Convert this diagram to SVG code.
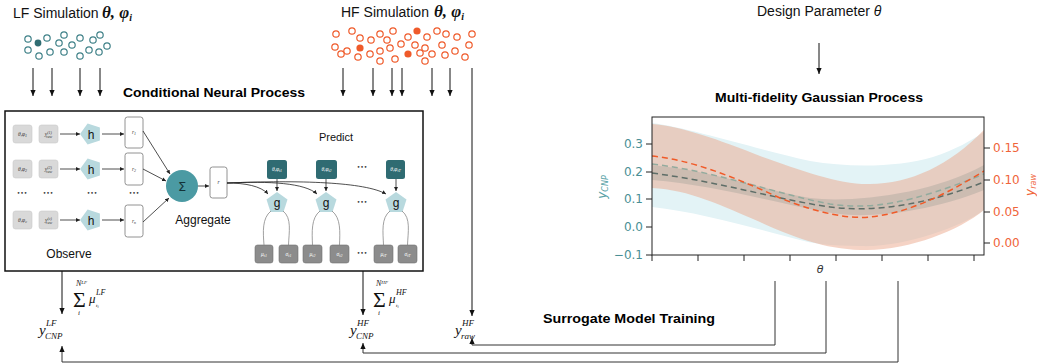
<svg xmlns="http://www.w3.org/2000/svg" width="1037" height="364" viewBox="0 0 1037 364">
<defs>
<marker id="ah" markerWidth="6" markerHeight="6" refX="6" refY="3" orient="auto" markerUnits="userSpaceOnUse"><path d="M0,0.4 L6,3 L0,5.6 z" fill="#111"/></marker>
<marker id="as" markerWidth="4" markerHeight="4" refX="4" refY="2" orient="auto" markerUnits="userSpaceOnUse"><path d="M0,0 L4,2 L0,4 z" fill="#222"/></marker>
<clipPath id="plot"><rect x="652" y="117" width="332" height="138"/></clipPath>
</defs>
<style>
.sans{font-family:"Liberation Sans",Arial,sans-serif;fill:#111}
.title{font-family:"Liberation Sans",Arial,sans-serif;font-weight:bold;fill:#000}
.math{font-family:"Liberation Serif","Times New Roman",serif;font-style:italic;fill:#111}
.lf{fill:#fff;stroke:#3f8188;stroke-width:1.2}
.hf{fill:#fff;stroke:#ef5a2a;stroke-width:1.2}
.arrow{stroke:#111;stroke-width:1;fill:none;marker-end:url(#ah)}
.sarrow{stroke:#222;stroke-width:0.8;fill:none;marker-end:url(#as)}
.gbox{fill:#d9d9d9;stroke:#cacaca;stroke-width:0.6}
.rbox{fill:#fff;stroke:#777;stroke-width:0.8}
.pent{fill:#b8d9de}
.tbox{fill:#2f6b72}
.dbox{fill:#8c8c8c;stroke:#707070;stroke-width:0.6}
.tiny{font-family:"Liberation Serif",serif;font-style:italic;font-size:5.5px;fill:#333}
.tinyw{font-family:"Liberation Serif",serif;font-style:italic;font-size:5.5px;fill:#fff}
.dots{font-family:"DejaVu Sans",sans-serif;font-size:6px;fill:#333}
.gline{stroke:#888;stroke-width:0.8;fill:none}
.tick{stroke:#222;stroke-width:1}
.lt{font-family:"DejaVu Sans",sans-serif;font-size:12px;fill:#4a8f95}
.rt{font-family:"DejaVu Sans",sans-serif;font-size:12px;fill:#f0643a}
.conn{stroke:#333;stroke-width:1;fill:none;marker-end:url(#ah)}
</style>

<!-- Top labels -->
<g id="lf-sim">
<text class="sans" x="13" y="18" font-size="14">LF Simulation</text>
<text class="math" x="102" y="18" font-size="17" font-weight="bold">θ, φ<tspan font-size="10" dy="3">i</tspan></text>
<circle class="lf" cx="28" cy="39" r="3.2"/><circle cx="38" cy="43" r="3.4" fill="#2f6d72"/><circle class="lf" cx="47" cy="38" r="3.2"/>
<circle class="lf" cx="59" cy="43" r="3.2"/><circle class="lf" cx="64" cy="35" r="3.2"/><circle class="lf" cx="72" cy="45" r="3.2"/>
<circle class="lf" cx="80" cy="38" r="3.2"/><circle class="lf" cx="93" cy="40" r="3.2"/><circle class="lf" cx="100" cy="35" r="3.2"/>
<circle class="lf" cx="107" cy="46" r="3.2"/><circle class="lf" cx="28" cy="50" r="3.2"/><circle class="lf" cx="39" cy="56" r="3.2"/>
<circle class="lf" cx="50" cy="52" r="3.2"/><circle class="lf" cx="64" cy="52" r="3.2"/><circle class="lf" cx="80" cy="56" r="3.2"/>
<circle class="lf" cx="89" cy="50" r="3.2"/><circle class="lf" cx="99" cy="52" r="3.2"/>
</g>

<g id="hf-sim">
<text class="sans" x="341" y="17" font-size="14">HF Simulation</text>
<text class="math" x="434" y="17" font-size="17" font-weight="bold">θ, φ<tspan font-size="10" dy="3">i</tspan></text>
<circle class="hf" cx="336" cy="34" r="3.2"/><circle class="hf" cx="352" cy="31" r="3.2"/><circle class="hf" cx="360" cy="38" r="3.2"/>
<circle class="hf" cx="335" cy="47" r="3.2"/><circle class="hf" cx="347" cy="51" r="3.2"/><circle cx="360" cy="48" r="3.6" fill="#ef5a2a"/>
<circle class="hf" cx="341" cy="54" r="3.2"/><circle class="hf" cx="358" cy="57" r="3.2"/><circle class="hf" cx="371" cy="40" r="3.2"/>
<circle class="hf" cx="380" cy="34" r="3.2"/><circle class="hf" cx="387" cy="40" r="3.2"/><circle class="hf" cx="393" cy="31" r="3.2"/>
<circle class="hf" cx="370" cy="54" r="3.2"/><circle class="hf" cx="380" cy="51" r="3.2"/><circle class="hf" cx="390" cy="48" r="3.2"/>
<circle class="hf" cx="380" cy="61" r="3.2"/><circle class="hf" cx="395" cy="59" r="3.2"/><circle class="hf" cx="401" cy="44" r="3.2"/>
<circle class="hf" cx="408" cy="37" r="3.2"/><circle cx="417" cy="31" r="3.6" fill="#ef5a2a"/><circle class="hf" cx="415" cy="45" r="3.2"/>
<circle cx="408" cy="54" r="3.6" fill="#ef5a2a"/><circle class="hf" cx="420" cy="53" r="3.2"/><circle class="hf" cx="425" cy="48" r="3.2"/>
<circle class="hf" cx="427" cy="37" r="3.2"/><circle class="hf" cx="425" cy="61" r="3.2"/><circle class="hf" cx="432" cy="54" r="3.2"/>
<circle class="hf" cx="437" cy="31" r="3.2"/><circle class="hf" cx="446" cy="34" r="3.2"/><circle class="hf" cx="442" cy="45" r="3.2"/>
<circle class="hf" cx="445" cy="55" r="3.2"/><circle class="hf" cx="457" cy="37" r="3.2"/><circle class="hf" cx="455" cy="51" r="3.2"/>
<circle class="hf" cx="465" cy="57" r="3.2"/><circle class="hf" cx="472" cy="34" r="3.2"/><circle class="hf" cx="469" cy="45" r="3.2"/>
</g>

<g id="design-param">
<text class="sans" x="757" y="16" font-size="14">Design Parameter <tspan font-style="italic">θ</tspan></text>
</g>

<!-- Titles -->
<text class="title" x="123" y="97" font-size="13" textLength="182" lengthAdjust="spacingAndGlyphs">Conditional Neural Process</text>
<text class="title" x="715" y="102" font-size="13" textLength="208" lengthAdjust="spacingAndGlyphs">Multi-fidelity Gaussian Process</text>
<text class="title" x="543" y="323" font-size="13" textLength="172" lengthAdjust="spacingAndGlyphs">Surrogate Model Training</text>

<!-- CNP box -->
<g id="cnp">
<rect x="5" y="111" width="418" height="160" fill="#fff" stroke="#111" stroke-width="1.5"/>

<g id="observe-row1">
<rect class="gbox" x="13" y="125" width="19" height="18" rx="2.5"/>
<text class="tiny" x="22.5" y="136" text-anchor="middle">θ,φ<tspan font-size="4" dy="1">1</tspan></text>
<rect class="gbox" x="39" y="125" width="19" height="18" rx="2.5"/>
<text class="tiny" x="48.5" y="136" text-anchor="middle">y<tspan font-size="4" dy="-2">(1)</tspan><tspan font-size="4" dx="-6" dy="4">raw</tspan></text>
<polygon class="pent" points="80,134 87.6,123.5 99.9,127.5 99.9,140.5 87.6,144.5"/>
<text class="sans" x="91" y="138.5" font-size="12" text-anchor="middle">h</text>
<rect class="rbox" x="125" y="117" width="18" height="31" rx="2.5"/>
<text class="tiny" x="134" y="134" text-anchor="middle">r<tspan font-size="4" dy="1">1</tspan></text>
</g>
<g id="observe-row2">
<rect class="gbox" x="13" y="160" width="19" height="18" rx="2.5"/>
<text class="tiny" x="22.5" y="171" text-anchor="middle">θ,φ<tspan font-size="4" dy="1">2</tspan></text>
<rect class="gbox" x="39" y="160" width="19" height="18" rx="2.5"/>
<text class="tiny" x="48.5" y="171" text-anchor="middle">y<tspan font-size="4" dy="-2">(2)</tspan><tspan font-size="4" dx="-6" dy="4">raw</tspan></text>
<polygon class="pent" points="80,169 87.6,158.5 99.9,162.5 99.9,175.5 87.6,179.5"/>
<text class="sans" x="91" y="173.5" font-size="12" text-anchor="middle">h</text>
<rect class="rbox" x="125" y="153" width="18" height="32" rx="2.5"/>
<text class="tiny" x="134" y="171" text-anchor="middle">r<tspan font-size="4" dy="1">2</tspan></text>
</g>
<g id="observe-row3">
<rect class="gbox" x="13" y="211" width="19" height="18" rx="2.5"/>
<text class="tiny" x="22.5" y="222" text-anchor="middle">θ,φ<tspan font-size="4" dy="1">c</tspan></text>
<rect class="gbox" x="39" y="211" width="19" height="18" rx="2.5"/>
<text class="tiny" x="48.5" y="222" text-anchor="middle">y<tspan font-size="4" dy="-2">(c)</tspan><tspan font-size="4" dx="-6" dy="4">raw</tspan></text>
<polygon class="pent" points="80,220 87.6,209.5 99.9,213.5 99.9,226.5 87.6,230.5"/>
<text class="sans" x="91" y="224.5" font-size="12" text-anchor="middle">h</text>
<rect class="rbox" x="125" y="205" width="18" height="32" rx="2.5"/>
<text class="tiny" x="134" y="223" text-anchor="middle">r<tspan font-size="4" dy="1">n</tspan></text>
</g>
<text class="dots" x="22" y="195" text-anchor="middle">•••</text>
<text class="dots" x="48" y="195" text-anchor="middle">•••</text>
<text class="dots" x="92" y="195" text-anchor="middle">•••</text>
<text class="dots" x="134" y="195" text-anchor="middle">•••</text>

<g id="aggregate">
<circle cx="182" cy="186" r="16" fill="#4b9aa3"/>
<text x="182" y="191" font-family="DejaVu Sans,sans-serif" font-size="13" fill="#143338" text-anchor="middle">Σ</text>
<rect class="rbox" x="210" y="167" width="17" height="31" rx="2.5"/>
<text class="tiny" x="218.5" y="184" text-anchor="middle">r</text>
</g>

<g id="predict1">
<rect class="tbox" x="267" y="160" width="20" height="19" rx="2.5"/>
<text class="tinyw" x="277" y="171" text-anchor="middle">θ,φ<tspan font-size="4" dy="1">t1</tspan></text>
<polygon class="pent" points="277,192 287.5,199.6 283.5,211.9 270.5,211.9 266.5,199.6"/>
<text class="sans" x="277" y="207" font-size="12" text-anchor="middle">g</text>
<rect class="dbox" x="255" y="245" width="18" height="18" rx="2.5"/>
<text class="tinyw" x="264" y="256" text-anchor="middle">μ<tspan font-size="4" dy="1">t1</tspan></text>
<rect class="dbox" x="279" y="245" width="19" height="18" rx="2.5"/>
<text class="tinyw" x="288.5" y="256" text-anchor="middle">σ<tspan font-size="4" dy="1">t1</tspan></text>
</g>
<g id="predict2">
<rect class="tbox" x="316" y="160" width="21" height="19" rx="2.5"/>
<text class="tinyw" x="326.5" y="171" text-anchor="middle">θ,φ<tspan font-size="4" dy="1">t2</tspan></text>
<polygon class="pent" points="326,192 336.5,199.6 332.5,211.9 319.5,211.9 315.5,199.6"/>
<text class="sans" x="326" y="207" font-size="12" text-anchor="middle">g</text>
<rect class="dbox" x="303" y="245" width="19" height="18" rx="2.5"/>
<text class="tinyw" x="312.5" y="256" text-anchor="middle">μ<tspan font-size="4" dy="1">t2</tspan></text>
<rect class="dbox" x="330" y="245" width="19" height="18" rx="2.5"/>
<text class="tinyw" x="339.5" y="256" text-anchor="middle">σ<tspan font-size="4" dy="1">t2</tspan></text>
</g>
<g id="predict3">
<rect class="tbox" x="386" y="160" width="19" height="19" rx="2.5"/>
<text class="tinyw" x="395.5" y="171" text-anchor="middle">θ,φ<tspan font-size="4" dy="1">tT</tspan></text>
<polygon class="pent" points="396,192 406.5,199.6 402.5,211.9 389.5,211.9 385.5,199.6"/>
<text class="sans" x="396" y="207" font-size="12" text-anchor="middle">g</text>
<rect class="dbox" x="374" y="245" width="19" height="18" rx="2.5"/>
<text class="tinyw" x="383.5" y="256" text-anchor="middle">μ<tspan font-size="4" dy="1">tT</tspan></text>
<rect class="dbox" x="398" y="245" width="19" height="18" rx="2.5"/>
<text class="tinyw" x="407.5" y="256" text-anchor="middle">σ<tspan font-size="4" dy="1">tT</tspan></text>
</g>
<text class="dots" x="362" y="169" text-anchor="middle">•••</text>
<text class="dots" x="362" y="204" text-anchor="middle">•••</text>
<text class="dots" x="362" y="255" text-anchor="middle">•••</text>

<text class="sans" x="336" y="141" font-size="11" text-anchor="middle">Predict</text>
<text class="sans" x="203" y="224" font-size="12" text-anchor="middle">Aggregate</text>
<text class="sans" x="69" y="258" font-size="12" text-anchor="middle">Observe</text>
</g>

<!-- GP plot -->
<g id="gp-plot">
<g clip-path="url(#plot)">
<path d="M652,123 C690,128 760,150 810,161 C850,168 900,167 933,157 C955,150 972,140 984,132 L984,210 C960,228 900,248 860,246 C830,246 810,243 800,240 C760,230 700,212 652,207 Z" fill="#e3f3f6"/>
<path d="M652,124 C680,126 720,140 760,156 C800,170 840,185 870,184 C910,184 950,165 984,130 L984,210 C960,230 910,250 867,250 C830,250 800,240 760,222 C720,205 690,190 652,188 Z" fill="#eba78c" fill-opacity="0.5"/>
<path d="M652,165 C720,172 770,192 810,198 C850,203 930,195 984,165 L984,190 C930,212 870,218 840,214 C800,210 720,185 652,180 Z" fill="#6f7f7a" fill-opacity="0.22"/>
<path d="M652,164 C720,172 780,195 830,204 C870,210 910,204 984,174" fill="none" stroke="#93ab9e" stroke-width="1.5" stroke-dasharray="6,4"/>
<path d="M652,173 C720,182 780,200 830,207 C880,213 930,203 984,182" fill="none" stroke="#5e6e68" stroke-width="1.5" stroke-dasharray="6,4"/>
<path d="M652,156 C690,160 730,175 780,198 C820,214 850,219 870,217 C910,213 950,192 984,171" fill="none" stroke="#f05a28" stroke-width="1.5" stroke-dasharray="6,4"/>
</g>
<rect x="652" y="117" width="332" height="138" fill="none" stroke="#222" stroke-width="1"/>
<g class="tick">
<line x1="646" y1="144" x2="652" y2="144"/><line x1="646" y1="172" x2="652" y2="172"/><line x1="646" y1="199" x2="652" y2="199"/><line x1="646" y1="227" x2="652" y2="227"/><line x1="646" y1="255" x2="652" y2="255"/>
<line x1="984" y1="148" x2="990" y2="148"/><line x1="984" y1="180" x2="990" y2="180"/><line x1="984" y1="212" x2="990" y2="212"/><line x1="984" y1="243" x2="990" y2="243"/>
<line x1="652" y1="255" x2="652" y2="261"/><line x1="698" y1="255" x2="698" y2="261"/><line x1="744" y1="255" x2="744" y2="261"/><line x1="790" y1="255" x2="790" y2="261"/>
<line x1="836" y1="255" x2="836" y2="261"/><line x1="882" y1="255" x2="882" y2="261"/><line x1="928" y1="255" x2="928" y2="261"/><line x1="974" y1="255" x2="974" y2="261"/>
</g>
<text class="lt" x="643" y="148" text-anchor="end">0.3</text>
<text class="lt" x="643" y="176" text-anchor="end">0.2</text>
<text class="lt" x="643" y="203" text-anchor="end">0.1</text>
<text class="lt" x="643" y="231" text-anchor="end">0.0</text>
<text class="lt" x="643" y="259" text-anchor="end">−0.1</text>
<text class="rt" x="993" y="152">0.15</text>
<text class="rt" x="993" y="184">0.10</text>
<text class="rt" x="993" y="216">0.05</text>
<text class="rt" x="993" y="247">0.00</text>
<text x="820" y="273" font-family="DejaVu Sans,sans-serif" font-style="italic" font-size="11" fill="#333" text-anchor="middle">θ</text>
<text transform="translate(606,187) rotate(-90)" font-family="DejaVu Sans,sans-serif" font-style="italic" font-size="12" fill="#5aa3a8" text-anchor="middle">y<tspan font-size="8" dy="2">CNP</tspan></text>
<text transform="translate(1034,185) rotate(-90)" font-family="DejaVu Sans,sans-serif" font-style="italic" font-size="12" fill="#f0643a" text-anchor="middle">y<tspan font-size="8" dy="2">raw</tspan></text>
</g>

<!-- Output labels -->
<g id="sum-lf">
<text class="math" x="76" y="286" font-size="8">N<tspan font-size="5" dy="-2">LF</tspan></text>
<text x="73" y="307" font-family="Liberation Serif,serif" font-size="22" fill="#111">Σ</text>
<text class="math" x="78" y="315" font-size="7">i</text>
<text class="math" x="89" y="303" font-size="13">μ</text>
<text class="math" x="96" y="295" font-size="8">LF</text>
<text class="math" x="96" y="307" font-size="5">t<tspan font-size="4" dy="1">i</tspan></text>
</g>
<g id="y-cnp-lf">
<text class="math" x="39" y="335" font-size="15">y</text>
<text class="math" x="46" y="326" font-size="9">LF</text>
<text class="math" x="45" y="339" font-size="9">CNP</text>
</g>
<g id="sum-hf">
<text class="math" x="376" y="286" font-size="8">N<tspan font-size="5" dy="-2">HF</tspan></text>
<text x="373" y="307" font-family="Liberation Serif,serif" font-size="22" fill="#111">Σ</text>
<text class="math" x="378" y="315" font-size="7">i</text>
<text class="math" x="389" y="303" font-size="13">μ</text>
<text class="math" x="396" y="295" font-size="8">HF</text>
<text class="math" x="396" y="307" font-size="5">t<tspan font-size="4" dy="1">i</tspan></text>
</g>
<g id="y-cnp-hf">
<text class="math" x="350" y="335" font-size="15">y</text>
<text class="math" x="357" y="326" font-size="9">HF</text>
<text class="math" x="356" y="339" font-size="9">CNP</text>
</g>
<g id="y-raw-hf">
<text class="math" x="455" y="335" font-size="15">y</text>
<text class="math" x="462" y="326" font-size="9">HF</text>
<text class="math" x="461" y="339" font-size="9">raw</text>
</g>

<!-- Connectors -->
<g id="connectors">
<line class="arrow" x1="33" y1="68" x2="33" y2="96"/>
<line class="arrow" x1="52" y1="68" x2="52" y2="96"/>
<line class="arrow" x1="80" y1="68" x2="80" y2="96"/>
<line class="arrow" x1="100" y1="68" x2="100" y2="96"/>
<line class="arrow" x1="343" y1="68" x2="343" y2="96"/>
<line class="arrow" x1="373" y1="68" x2="373" y2="96"/>
<line class="arrow" x1="392" y1="68" x2="392" y2="96"/>
<line class="arrow" x1="402" y1="68" x2="402" y2="96"/>
<line class="arrow" x1="432" y1="68" x2="432" y2="96"/>
<line class="arrow" x1="450" y1="68" x2="450" y2="96"/>
<line class="arrow" x1="472" y1="68" x2="472" y2="316"/>
<line class="arrow" x1="819" y1="43" x2="819" y2="74"/>
<line class="arrow" x1="62" y1="271" x2="62" y2="314"/>
<line class="arrow" x1="363" y1="271" x2="363" y2="315"/>

<line class="sarrow" x1="60" y1="134" x2="80" y2="134"/>
<line class="sarrow" x1="60" y1="169" x2="80" y2="169"/>
<line class="sarrow" x1="60" y1="220" x2="80" y2="220"/>
<line class="sarrow" x1="102" y1="134" x2="124" y2="134"/>
<line class="sarrow" x1="102" y1="169" x2="124" y2="169"/>
<line class="sarrow" x1="102" y1="220" x2="124" y2="220"/>
<line class="sarrow" x1="143" y1="131" x2="170" y2="174"/>
<line class="sarrow" x1="143" y1="169" x2="166" y2="181"/>
<line class="sarrow" x1="143" y1="222" x2="169" y2="198"/>
<line class="sarrow" x1="198" y1="186" x2="209" y2="186"/>
<path class="sarrow" d="M227,183 C245,183 261,186 268,194"/>
<path class="sarrow" d="M227,183 C270,181 305,183 317,194"/>
<path class="sarrow" d="M227,183 C300,180 365,182 386,194"/>
<line class="sarrow" x1="277" y1="179" x2="277" y2="191"/>
<line class="sarrow" x1="326" y1="179" x2="326" y2="191"/>
<line class="sarrow" x1="396" y1="179" x2="396" y2="191"/>
<path class="gline" d="M271,211 C262,218 263,232 264,245"/>
<path class="gline" d="M283,211 C292,218 289,232 288.5,245"/>
<path class="gline" d="M320,211 C311,218 312,232 312.5,245"/>
<path class="gline" d="M332,211 C341,218 340,232 339.5,245"/>
<path class="gline" d="M390,211 C381,218 383,232 383.5,245"/>
<path class="gline" d="M402,211 C411,218 408,232 407.5,245"/>

<polyline class="conn" points="775,281 775,345 472,345 472,338"/>
<polyline class="conn" points="826,281 826,353 363,353 363,343"/>
<polyline class="conn" points="898,281 898,362 62,362 62,346"/>
</g>
</svg>
